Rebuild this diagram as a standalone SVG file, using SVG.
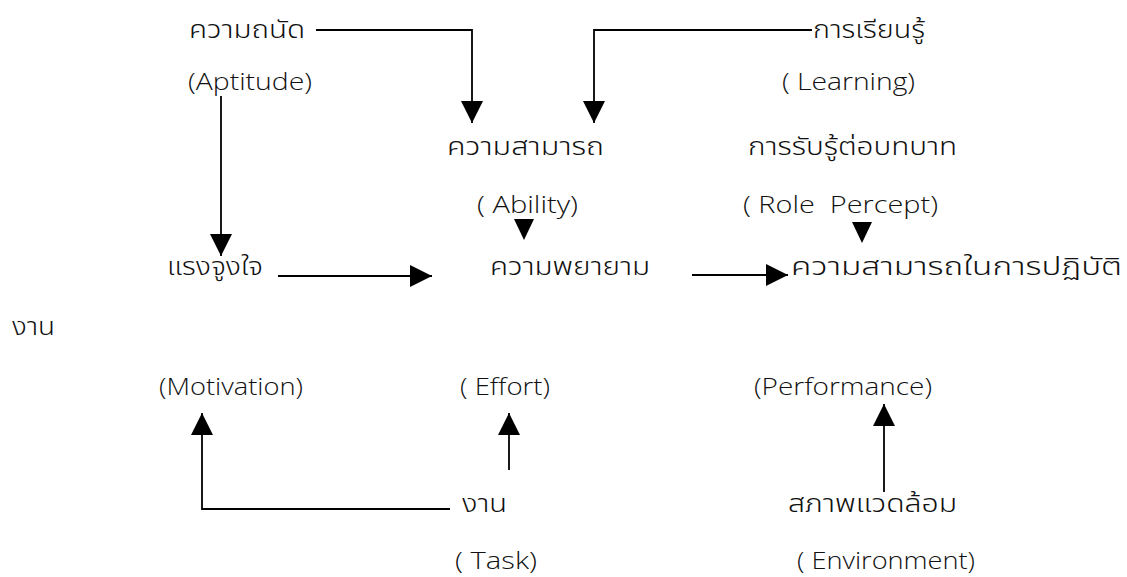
<svg xmlns="http://www.w3.org/2000/svg" width="1127" height="577" viewBox="0 0 1127 577">
<style>
text{font-family:"Noto Sans Thai","Noto Sans","Liberation Sans","DejaVu Sans",sans-serif;font-size:24px;font-weight:300;fill:#111}
.en{font-family:"Open Sans","Liberation Sans",Arial,sans-serif;font-size:24px;font-weight:300}
.ln{fill:none;stroke:#000;stroke-width:1.8}
.hd{fill:#000}
</style>
<defs>
<marker id="ah" markerUnits="userSpaceOnUse" markerWidth="22" markerHeight="22" viewBox="0 0 20 20" refX="20" refY="10" orient="auto">
<path d="M0,0 L20,10 L0,20 Z" fill="#000"/>
</marker>
</defs>
<rect width="1127" height="577" fill="#fff"/>
<g id="connectors">
<path class="ln" d="M316,30 H472 V123" marker-end="url(#ah)"/>
<path class="ln" d="M812,30 H594 V123" marker-end="url(#ah)"/>
<path class="ln" d="M221,96 V256" marker-end="url(#ah)"/>
<path class="ln" d="M278,276 H432" marker-end="url(#ah)"/>
<path class="ln" d="M692,275 H788" marker-end="url(#ah)"/>
<polygon class="hd" points="514,219 534,219 524,240"/>
<polygon class="hd" points="852,222 872,222 862,243"/>
<path class="ln" d="M509,470 V413" marker-end="url(#ah)"/>
<path class="ln" d="M450,509 H202 V413" marker-end="url(#ah)"/>
<path class="ln" d="M884,492 V404" marker-end="url(#ah)"/>
</g>
<g id="aptitude">
<text x="189" y="38" textLength="116" lengthAdjust="spacingAndGlyphs">ความถนัด</text>
<text class="en" x="188" y="90" textLength="124" lengthAdjust="spacingAndGlyphs">(Aptitude)</text>
</g>
<g id="learning">
<text x="813" y="38" textLength="112" lengthAdjust="spacingAndGlyphs">การเรียนรู้</text>
<text class="en" x="782" y="90" textLength="133" lengthAdjust="spacingAndGlyphs">( Learning)</text>
</g>
<g id="ability">
<text x="447" y="155" textLength="157" lengthAdjust="spacingAndGlyphs">ความสามารถ</text>
<text class="en" x="477" y="213" textLength="101" lengthAdjust="spacingAndGlyphs">( Ability)</text>
</g>
<g id="roleperception">
<text x="748" y="155" textLength="209" lengthAdjust="spacingAndGlyphs">การรับรู้ต่อบทบาท</text>
<text class="en" x="743" y="213" textLength="195" lengthAdjust="spacingAndGlyphs" xml:space="preserve">( Role  Percept)</text>
</g>
<g id="motivation">
<text x="167" y="275" textLength="96" lengthAdjust="spacingAndGlyphs">แรงจูงใจ</text>
<text class="en" x="159" y="395" textLength="144" lengthAdjust="spacingAndGlyphs">(Motivation)</text>
</g>
<g id="effort">
<text x="490" y="275" textLength="160" lengthAdjust="spacingAndGlyphs">ความพยายาม</text>
<text class="en" x="460" y="395" textLength="90" lengthAdjust="spacingAndGlyphs">( Effort)</text>
</g>
<g id="performance">
<text x="791" y="275" textLength="331" lengthAdjust="spacingAndGlyphs">ความสามารถในการปฏิบัติ</text>
<text x="12" y="335" textLength="43" lengthAdjust="spacingAndGlyphs">งาน</text>
<text class="en" x="754" y="395" textLength="178" lengthAdjust="spacingAndGlyphs">(Performance)</text>
</g>
<g id="task">
<text x="462" y="512" textLength="45" lengthAdjust="spacingAndGlyphs">งาน</text>
<text class="en" x="455" y="569" textLength="82" lengthAdjust="spacingAndGlyphs">( Task)</text>
</g>
<g id="environment">
<text x="788" y="512" textLength="169" lengthAdjust="spacingAndGlyphs">สภาพแวดล้อม</text>
<text class="en" x="797" y="569" textLength="178" lengthAdjust="spacingAndGlyphs">( Environment)</text>
</g>
</svg>
